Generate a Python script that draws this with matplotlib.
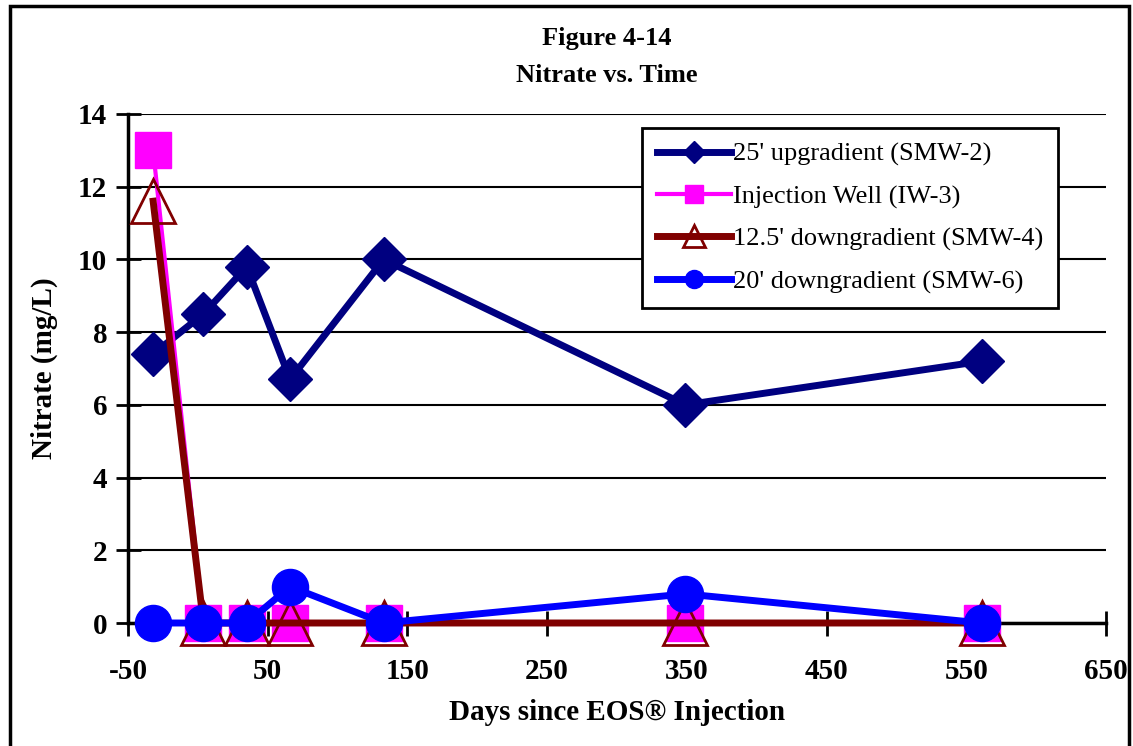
import matplotlib.pyplot as plt
from matplotlib.patches import Rectangle

plt.rcParams['font.family'] = ['Liberation Serif', 'DejaVu Serif']
plt.rcParams['axes.unicode_minus'] = False

days = [-32, 4, 35, 66, 133, 349, 561]
smw2 = [7.4, 8.5, 9.8, 6.7, 10.0, 6.0, 7.2]
iw3 = [13.0, 0, 0, 0, 0, 0, 0]
smw4 = [11.6, 0, 0, 0, 0, 0, 0]
smw6 = [0, 0, 0, 1.0, 0, 0.8, 0]

fig = plt.figure(figsize=(11.33, 7.46), dpi=100)
ax = fig.add_axes([128 / 1133, 1 - 623 / 746, (1106 - 128) / 1133, (623 - 114) / 746])

ax.plot(days, smw2, color='#000080', lw=5, marker='D', ms=22, mfc='#000080', mec='#000080',
        label="25' upgradient (SMW-2)", clip_on=False, zorder=3)
ax.plot(days, iw3, color='#FF00FF', lw=3, marker='s', ms=26, mfc='#FF00FF', mec='#FF00FF',
        label='Injection Well (IW-3)', clip_on=False, zorder=4)
ax.plot(days, smw4, color='#800000', lw=5, marker='^', ms=31, mfc='none', mec='#800000', mew=2,
        label="12.5' downgradient (SMW-4)", clip_on=False, zorder=5)
ax.plot(days, smw6, color='#0000FF', lw=5, marker='o', ms=26, mfc='#0000FF', mec='#0000FF',
        label="20' downgradient (SMW-6)", clip_on=False, zorder=6)

ax.set_xlim(-50, 650)
ax.set_ylim(0, 14)
ax.set_xticks(range(-50, 651, 100))
ax.set_yticks(range(0, 15, 2))
ax.yaxis.grid(True, color='black', lw=1.5)
ax.set_axisbelow(True)
for s in ['top', 'right']:
    ax.spines[s].set_visible(False)
ax.spines['left'].set_linewidth(2.5)
ax.spines['bottom'].set_linewidth(2.5)
ax.tick_params(direction='inout', length=18, width=2, labelsize=21)
ax.tick_params(axis='x', pad=16)
ax.tick_params(axis='y', pad=6)
for lab in ax.get_xticklabels() + ax.get_yticklabels():
    lab.set_fontweight('bold')

ax.set_xlabel('Days since EOS® Injection', fontsize=21, fontweight='bold', labelpad=10)
ax.set_ylabel('Nitrate (mg/L)', fontsize=21, fontweight='bold', labelpad=14)
fig.text(607 / 1133, 1 - 38 / 746, 'Figure 4-14', ha='center', va='center', fontsize=19, fontweight='bold')
fig.text(607 / 1133, 1 - 76 / 746, 'Nitrate vs. Time', ha='center', va='center', fontsize=19, fontweight='bold')

leg = ax.legend(loc='upper right', bbox_to_anchor=(0.951, 0.9725), borderaxespad=0, fontsize=19,
                frameon=True, fancybox=False, edgecolor='black', handlelength=2.8, handletextpad=0.1,
                markerscale=0.5, borderpad=0.55, labelspacing=0.7)
leg.get_frame().set_linewidth(2)
leg.get_frame().set_alpha(1)

fig.patches.append(Rectangle((10 / 1133, -0.05), 1 - 14 / 1133, 1.05 - 6 / 746, transform=fig.transFigure,
                             fill=False, edgecolor='black', lw=2.5))

fig.savefig('out.png', dpi=100)
